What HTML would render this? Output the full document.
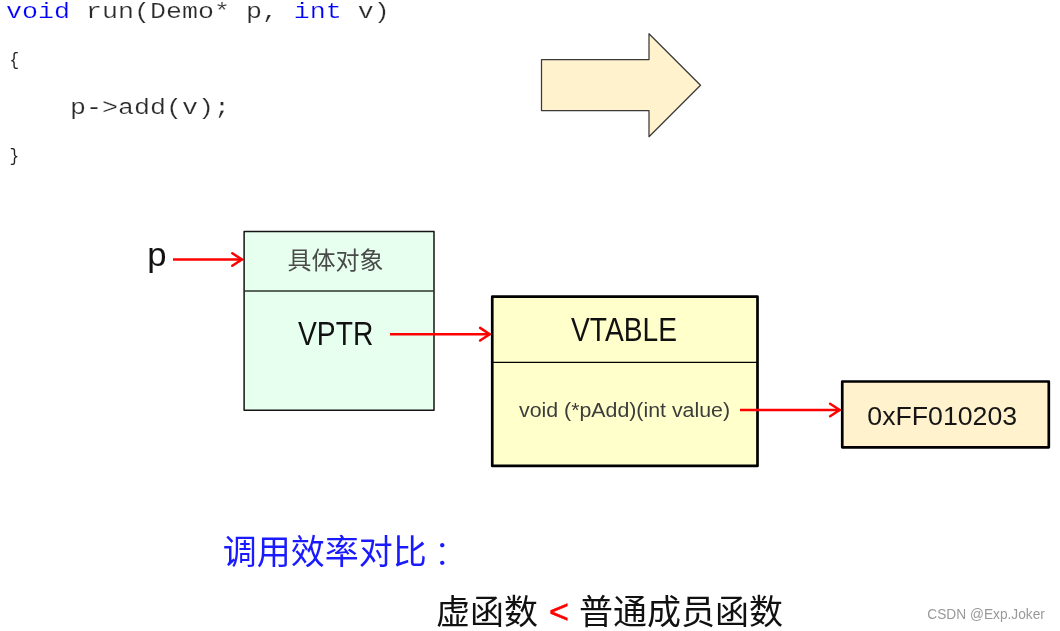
<!DOCTYPE html>
<html lang="zh-CN">
<head>
<meta charset="utf-8">
<title>虚函数调用效率对比</title>
<style>
  html, body { margin: 0; padding: 0; background: #ffffff; }
  body { width: 1060px; height: 631px; overflow: hidden; position: relative; }
  svg { position: absolute; left: 0; top: 0; display: block; will-change: transform; }
  text { white-space: pre; }
  .code { font-family: "Liberation Mono", monospace; font-size: 26.67px; fill: #2a2a2a; stroke: #ffffff; stroke-width: 0.25px; paint-order: fill stroke; }
  .br { stroke: none; fill: #222222; }
  .kw { fill: #0000ff; }
  .sans { font-family: "Liberation Sans", "Noto Sans CJK SC", sans-serif; }
  .cjk { font-family: "Liberation Sans", "Noto Sans CJK SC", sans-serif; font-weight: 400; }
  .tc { font-family: "Noto Sans CJK TC", "Noto Sans CJK SC", sans-serif; }
  .red { stroke: #ff0000; stroke-width: 2.5; fill: none; stroke-linejoin: miter; }
  .rc { stroke-linecap: round; }
  .box { stroke-linejoin: round; }
</style>
</head>
<body>
<svg width="1060" height="631" viewBox="0 0 1060 631">
  <!-- code -->
  <g class="code">
    <text transform="translate(6,18.2) scale(1,0.81)"><tspan class="kw">void</tspan> run(Demo* p, <tspan class="kw">int</tspan> v)</text>
    <text class="br" transform="translate(9.55,64.8) scale(0.6,0.71)">{</text>
    <text transform="translate(6,114.4) scale(1,0.81)">    p-&gt;add(v);</text>
    <text class="br" transform="translate(9.55,161) scale(0.6,0.71)">}</text>
  </g>

  <!-- big arrow -->
  <polygon class="box" points="541.5,59.5 649,59.5 649,33.7 700.5,85.3 649,136.7 649,110.5 541.5,110.5" fill="#fff2cc" stroke="#3a3a3a" stroke-width="1.25"/>

  <!-- arrow p -->
  <path class="red" d="M173,259.5 H242.4"/>
  <path class="red rc" d="M232.3,253.2 L241.9,259.5 L232.3,265.8"/>

  <!-- object box -->
  <rect class="box" x="244.1" y="231.5" width="189.9" height="178.8" fill="#e6ffee" stroke="#141414" stroke-width="1.5"/>
  <line x1="244.1" y1="291" x2="434" y2="291" stroke="#2c332c" stroke-width="1.3"/>
  <text class="sans" x="147.2" y="265.9" font-size="32.5" fill="#111111" textLength="19.3" lengthAdjust="spacingAndGlyphs">p</text>
  <text class="cjk" x="287.4" y="269" font-size="24" fill="#4a4a4a">具体对象</text>
  <text class="sans" x="298" y="345.3" font-size="32.6" fill="#111111" textLength="75.3" lengthAdjust="spacingAndGlyphs">VPTR</text>

  <!-- arrow vptr -->
  <path class="red" d="M390,334.2 H490.2"/>
  <path class="red rc" d="M480.1,327.9 L489.7,334.2 L480.1,340.5"/>

  <!-- vtable box -->
  <rect class="box" x="492.25" y="296.65" width="265.25" height="169.25" fill="#ffffcc" stroke="#000000" stroke-width="2.7"/>
  <line x1="492.25" y1="362.4" x2="757.5" y2="362.4" stroke="#000000" stroke-width="1.3"/>
  <text class="sans" x="571.1" y="341.4" font-size="32.6" fill="#111111" textLength="105.9" lengthAdjust="spacingAndGlyphs">VTABLE</text>
  <text class="sans" x="519" y="417.2" font-size="20" fill="#3c3c3c" textLength="211" lengthAdjust="spacingAndGlyphs">void (*pAdd)(int value)</text>

  <!-- arrow to addr -->
  <path class="red" d="M740,410.0 H840.2"/>
  <path class="red rc" d="M830.1,403.7 L839.7,410.0 L830.1,416.3"/>

  <!-- addr box -->
  <rect class="box" x="842.25" y="381.5" width="206.55" height="65.8" fill="#fff2cc" stroke="#000000" stroke-width="2.7"/>
  <text class="sans" x="867.3" y="424.6" font-size="26.67" fill="#151515" textLength="149.8" lengthAdjust="spacingAndGlyphs">0xFF010203</text>

  <!-- bottom text -->
  <text class="cjk" x="222.7" y="563.8" font-size="34" fill="#1a1aff">调用效率对比<tspan class="tc" lang="zh-TW" xml:lang="zh-TW" x="425.2" dy="3" font-weight="300">：</tspan></text>
  <text class="cjk" x="436" y="623.6" font-size="34" fill="#111111">虚函数</text>
  <text class="sans" x="549" y="622.5" font-size="34" fill="#ff0000" stroke="#ff0000" stroke-width="0.5">&lt;</text>
  <text class="cjk" x="579.1" y="623.6" font-size="34" fill="#111111">普通成员函数</text>
  <text class="sans" x="927.3" y="619" font-size="14" fill="#999999" textLength="117.6" lengthAdjust="spacingAndGlyphs">CSDN @Exp.Joker</text>
</svg>
</body>
</html>
